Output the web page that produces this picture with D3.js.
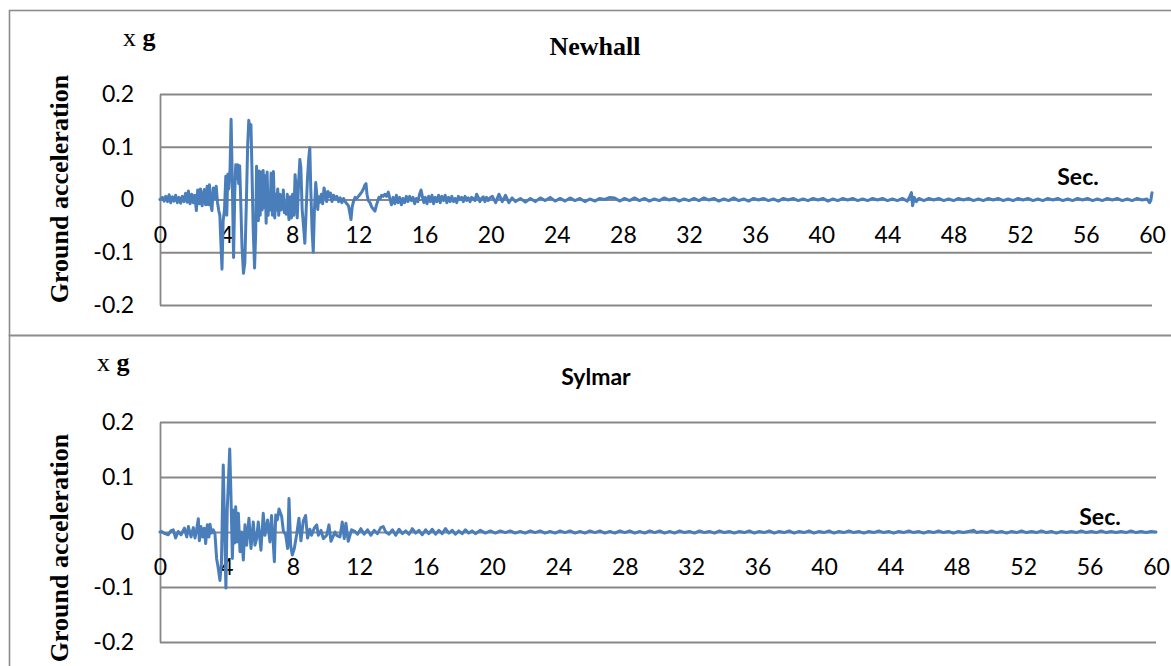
<!DOCTYPE html>
<html><head><meta charset="utf-8">
<script src="https://cdn.jsdelivr.net/npm/d3@7"></script>
<style>
html,body{margin:0;padding:0;background:#fff;}
svg{display:block;}
</style></head><body>
<svg id="chart" width="1171" height="666"></svg>
<script>
// ---------- data ----------
const xTicks = [0,4,8,12,16,20,24,28,32,36,40,44,48,52,56,60];
const yTicks = [-0.2,-0.1,0,0.1,0.2];
const panelTitles = ["Newhall","Sylmar"];
const yAxisTitle = "Ground acceleration";
const unitLabel = "x g";
const xUnit = "Sec.";

// Newhall record: [time s, acceleration g]
const newhall = [
[0,0],[0.15,0.004],[0.25,-0.003],[0.35,0.006],[0.45,-0.004],[0.55,0.009],[0.65,-0.006],[0.75,0.005],[0.85,-0.003],[0.95,0.008],
[1.05,-0.006],[1.15,0.004],[1.25,-0.007],[1.35,0.006],[1.45,-0.004],[1.55,0.012],[1.65,-0.005],[1.72,0.016],[1.82,-0.008],[1.92,0.010],
[2.02,-0.006],[2.10,0.008],[2.20,-0.021],[2.28,0.018],[2.38,-0.008],[2.45,0.020],[2.55,-0.012],[2.62,0.010],[2.68,0.019],[2.76,-0.010],
[2.85,0.025],[2.92,-0.010],[2.99,0.028],[3.06,-0.008],[3.14,-0.021],[3.22,0.022],[3.30,0.002],[3.40,0.025],[3.48,-0.006],[3.56,-0.022],
[3.62,-0.030],[3.68,-0.080],[3.75,-0.132],[3.82,-0.040],[3.90,-0.020],[3.98,0.044],[4.04,-0.030],[4.10,0.048],[4.16,0.020],[4.24,0.060],
[4.30,0.152],[4.37,0.040],[4.45,-0.110],[4.52,0.010],[4.58,0.066],[4.64,0.040],[4.70,0.066],[4.76,0.030],[4.82,0.064],[4.88,0.000],
[4.96,-0.090],[5.05,-0.140],[5.13,-0.120],[5.22,-0.010],[5.30,0.100],[5.37,0.150],[5.44,0.135],[5.50,0.142],[5.56,0.060],[5.64,-0.060],
[5.72,-0.130],[5.79,-0.060],[5.84,0.063],[5.90,-0.005],[5.95,-0.040],[6.00,0.054],[6.06,-0.030],[6.12,0.052],[6.18,-0.020],[6.24,0.055],
[6.30,-0.015],[6.36,0.045],[6.42,-0.045],[6.48,0.052],[6.54,-0.030],[6.60,0.010],[6.66,-0.020],[6.72,0.050],[6.80,-0.030],[6.86,0.053],
[6.94,-0.035],[7.00,0.010],[7.06,-0.020],[7.12,0.020],[7.18,-0.030],[7.26,0.010],[7.32,-0.020],[7.40,-0.015],[7.46,0.018],[7.52,-0.025],
[7.58,-0.010],[7.64,-0.028],[7.70,0.010],[7.80,-0.038],[7.88,0.005],[7.95,-0.035],[8.02,0.010],[8.10,-0.030],[8.17,0.047],[8.24,0.020],
[8.30,-0.035],[8.38,0.030],[8.46,0.076],[8.52,0.060],[8.60,-0.020],[8.68,-0.050],[8.76,-0.083],[8.84,-0.020],[8.92,0.040],[9.00,0.080],
[9.06,0.098],[9.12,0.020],[9.20,-0.060],[9.27,-0.100],[9.34,-0.020],[9.42,0.032],[9.48,0.010],[9.54,-0.019],[9.60,0.005],[9.68,-0.005],
[9.76,0.010],[9.84,-0.008],[9.92,0.022],[10.00,0.012],[10.08,-0.004],[10.16,0.015],[10.24,0.005],[10.32,0.012],[10.40,-0.004],[10.50,0.008],
[10.60,0.002],[10.70,0.006],[10.80,-0.004],[10.90,0.003],[11.00,-0.006],[11.10,0.002],[11.20,-0.004],[11.30,-0.008],[11.40,-0.012],[11.48,-0.025],
[11.55,-0.038],[11.62,-0.015],[11.70,-0.004],[11.80,0.004],[11.90,0.002],[12.00,0.006],[12.10,0.010],[12.20,0.014],[12.30,0.020],[12.40,0.028],
[12.46,0.030],[12.52,0.010],[12.60,-0.002],[12.70,-0.006],[12.80,-0.014],[12.90,-0.018],[13.00,-0.022],[13.08,-0.012],[13.16,-0.004],[13.24,0.004],
[13.32,0.002],[13.40,0.008],[13.50,0.006],[13.60,0.010],[13.70,0.006],[13.81,0.014],[13.90,0.002],[14.00,-0.010],[14.10,0.004],[14.20,-0.008],
[14.30,0.008],[14.40,-0.006],[14.50,0.004],[14.60,-0.010],[14.70,0.002],[14.80,-0.006],[14.90,0.006],[15.00,-0.004],[15.10,0.006],[15.20,-0.002],
[15.30,0.004],[15.40,-0.008],[15.50,0.002],[15.60,-0.004],[15.70,0.010],[15.79,0.018],[15.88,0.004],[15.96,-0.006],[16.05,0.004],[16.15,-0.008],
[16.25,0.006],[16.35,-0.004],[16.45,0.008],[16.55,-0.008],[16.65,0.004],[16.75,-0.004],[16.85,0.008],[16.95,-0.006],[17.05,0.006],[17.15,-0.002],
[17.25,0.008],[17.35,-0.006],[17.45,0.004],[17.55,-0.004],[17.65,0.006],[17.75,-0.004],[17.85,0.002],[17.95,-0.006],[18.05,0.006],[18.15,0.000],
[18.25,0.004],[18.35,-0.004],[18.45,0.006],[18.55,-0.002],[18.65,0.003],[18.75,-0.004],[18.85,0.004],[18.95,0.002],[19.05,-0.002],[19.15,0.010],
[19.25,0.004],[19.35,-0.004],[19.45,0.002],[19.55,0.005],[19.65,-0.004],[19.75,0.004],[19.85,-0.002],[19.95,0.003],
[20.1,0.006],[20.3,-0.006],[20.5,0.010],[20.7,-0.004],[20.9,0.008],[21.1,-0.006],[21.3,0.003],[21.5,-0.004],[21.8,0.002],[22.1,-0.005],
[22.4,0.002],[22.7,-0.004],[23.0,0.003],[23.3,-0.002],[23.6,0.004],[23.9,-0.003],[24.2,0.002],[24.5,-0.003],[24.8,0.003],[25.1,-0.002],
[25.4,0.002],[25.7,-0.004],[26.0,0.001],[26.3,-0.003],[26.6,0.002],[26.9,0.000],[27.2,0.004],[27.5,0.003],[27.8,-0.003],[28.1,0.002],
[28.4,-0.002],[28.7,0.003],[29.0,-0.002],[29.3,0.002],[29.6,-0.003],[29.9,0.001],[30.2,-0.002],[30.5,0.003],[30.8,-0.001],[31.1,0.002],
[31.4,-0.003],[31.7,0.001],[32.0,-0.002],[32.3,0.002],[32.6,-0.002],[32.9,0.003],[33.2,-0.001],[33.5,0.002],[33.8,-0.003],[34.1,0.001],
[34.4,-0.002],[34.7,0.003],[35.0,-0.002],[35.3,0.001],[35.6,-0.003],[35.9,0.002],[36.2,-0.001],[36.5,0.002],[36.8,-0.002],[37.1,0.001],
[37.4,-0.003],[37.7,0.002],[38.0,-0.001],[38.3,0.002],[38.6,-0.002],[38.9,0.001],[39.2,-0.002],[39.5,0.002],[39.8,-0.001],[40.1,0.002],
[40.4,-0.003],[40.7,0.001],[41.0,-0.002],[41.3,0.002],[41.6,-0.001],[41.9,0.002],[42.2,-0.002],[42.5,0.001],[42.8,-0.002],[43.1,0.002],
[43.4,-0.001],[43.7,0.002],[44.0,-0.002],[44.3,0.001],[44.6,-0.002],[44.9,0.002],[45.2,-0.003],[45.35,0.006],[45.45,0.013],[45.52,-0.012],
[45.62,0.004],[45.75,-0.004],[45.9,0.002],[46.2,-0.002],[46.5,0.002],[46.8,-0.001],[47.1,0.002],[47.4,-0.002],[47.7,0.001],[48.0,-0.002],
[48.3,0.002],[48.6,-0.001],[48.9,0.002],[49.2,-0.002],[49.5,0.001],[49.8,-0.002],[50.1,0.002],[50.4,-0.001],[50.7,0.002],[51.0,-0.002],
[51.3,0.001],[51.6,-0.002],[51.9,0.002],[52.2,-0.001],[52.5,0.002],[52.8,-0.002],[53.1,0.001],[53.4,-0.002],[53.7,0.002],[54.0,-0.001],
[54.3,0.002],[54.6,-0.002],[54.9,0.001],[55.2,-0.002],[55.5,0.002],[55.8,-0.001],[56.1,0.002],[56.4,-0.002],[56.7,0.001],[57.0,-0.002],
[57.3,0.002],[57.6,-0.001],[57.9,0.002],[58.2,-0.002],[58.5,0.001],[58.8,-0.002],[59.1,0.002],[59.4,-0.001],[59.7,0.001],[59.85,-0.006],
[59.93,-0.002],[60.0,0.013]
];

// Sylmar record: [time s, acceleration g]
const sylmar = [
[0,0],[0.10,0.001],[0.30,-0.003],[0.50,-0.005],[0.65,0.002],[0.80,0.004],[0.94,-0.011],[1.10,0.001],[1.27,-0.005],[1.47,0.007],
[1.61,-0.009],[1.71,0.010],[1.87,-0.009],[2.01,0.008],[2.11,-0.011],[2.21,0.005],[2.31,0.024],[2.37,-0.016],[2.47,0.010],[2.57,-0.009],
[2.67,0.007],[2.75,-0.021],[2.85,0.013],[2.95,-0.009],[3.01,0.014],[3.11,-0.002],[3.21,0.004],[3.31,-0.003],[3.41,-0.048],[3.51,-0.066],
[3.61,-0.088],[3.70,-0.057],[3.81,0.122],[3.97,-0.102],[4.05,0.040],[4.20,0.151],[4.28,0.060],[4.36,-0.048],[4.44,0.040],[4.50,-0.020],
[4.56,0.046],[4.64,-0.018],[4.72,0.034],[4.82,-0.036],[4.92,0.000],[5.02,-0.051],[5.12,0.013],[5.22,-0.024],[5.36,0.025],[5.48,-0.030],
[5.62,0.018],[5.72,-0.024],[5.82,-0.012],[5.92,0.018],[6.08,-0.033],[6.22,0.034],[6.32,-0.006],[6.48,0.022],[6.62,-0.018],[6.72,0.030],
[6.89,-0.054],[6.97,0.031],[7.07,0.022],[7.17,0.042],[7.33,0.028],[7.43,0.002],[7.57,-0.005],[7.69,-0.030],[7.77,0.061],[7.87,-0.024],
[7.97,-0.042],[8.09,-0.030],[8.23,-0.005],[8.37,0.025],[8.49,-0.016],[8.63,0.020],[8.77,0.030],[8.89,-0.011],[9.03,0.005],[9.13,-0.006],
[9.29,0.007],[9.44,0.013],[9.54,-0.006],[9.70,0.003],[9.84,-0.012],[10.04,-0.006],[10.18,0.013],[10.30,-0.017],[10.54,0.000],[10.64,-0.006],
[10.84,-0.009],[10.98,0.018],[11.10,-0.012],[11.20,0.016],[11.34,-0.017],[11.54,0.004],[11.74,0.001],[11.90,-0.004],[12.10,0.006],[12.30,-0.004],
[12.50,0.004],[12.70,-0.006],[12.90,0.003],[13.10,-0.003],[13.30,0.008],[13.45,0.010],[13.60,0.000],[13.80,-0.004],[14.00,0.004],[14.20,-0.006],
[14.40,0.005],[14.60,-0.003],[14.80,0.002],[15.00,-0.004],[15.20,0.006],[15.40,-0.002],[15.60,0.003],[15.80,-0.005],[16.00,0.004],[16.20,-0.003],
[16.40,0.005],[16.60,-0.004],[16.80,0.003],[17.00,-0.003],[17.20,0.006],[17.40,-0.002],[17.60,0.003],[17.80,-0.004],[18.00,0.002],[18.20,-0.003],
[18.40,0.004],[18.60,-0.002],[18.80,0.002],[19.00,-0.003],[19.30,0.003],[19.60,-0.002],[19.90,0.002],[20.2,-0.002],[20.5,0.002],[20.8,-0.001],
[21.1,0.002],[21.4,-0.002],[21.7,0.001],[22.0,-0.002],[22.3,0.002],[22.6,-0.001],[22.9,0.002],[23.2,-0.002],[23.5,0.001],[23.8,-0.002],
[24.1,0.002],[24.4,-0.001],[24.7,0.002],[25.0,-0.002],[25.3,0.001],[25.6,-0.002],[25.9,0.002],[26.2,-0.001],[26.5,0.002],[26.8,-0.002],
[27.1,0.001],[27.4,-0.002],[27.7,0.002],[28.0,-0.001],[28.3,0.002],[28.6,-0.002],[28.9,0.001],[29.2,-0.002],[29.5,0.002],[29.8,-0.001],
[30.1,0.002],[30.4,-0.002],[30.7,0.001],[31.0,-0.002],[31.3,0.002],[31.6,-0.001],[31.9,0.001],[32.2,-0.002],[32.5,0.002],[32.8,-0.001],
[33.1,0.001],[33.4,-0.002],[33.7,0.002],[34.0,-0.001],[34.3,0.001],[34.6,-0.002],[34.9,0.001],[35.2,-0.001],[35.5,0.002],[35.8,-0.002],
[36.1,0.001],[36.4,-0.001],[36.7,0.002],[37.0,-0.002],[37.3,0.001],[37.6,-0.001],[37.9,0.002],[38.2,-0.002],[38.5,0.001],[38.8,-0.001],
[39.1,0.002],[39.4,-0.002],[39.7,0.001],[40.0,-0.001],[40.3,0.002],[40.6,-0.002],[40.9,0.001],[41.2,-0.001],[41.5,0.002],[41.8,-0.001],
[42.1,0.001],[42.4,-0.002],[42.7,0.001],[43.0,-0.001],[43.3,0.002],[43.6,-0.001],[43.9,0.001],[44.2,-0.002],[44.5,0.001],[44.8,-0.001],
[45.1,0.002],[45.4,-0.001],[45.7,0.001],[46.0,-0.002],[46.3,0.001],[46.6,-0.001],[46.9,0.002],[47.2,-0.001],[47.5,0.001],[47.8,-0.002],
[48.1,0.001],[48.4,-0.001],[48.7,0.001],[49.0,0.003],[49.2,-0.001],[49.5,0.001],[49.8,-0.001],[50.1,0.002],[50.4,-0.001],[50.7,0.001],
[51.0,-0.002],[51.3,0.001],[51.6,-0.001],[51.9,0.002],[52.2,-0.001],[52.5,0.001],[52.8,-0.001],[53.1,0.002],[53.4,-0.001],[53.7,0.001],
[54.0,-0.002],[54.3,0.001],[54.6,-0.001],[54.9,0.001],[55.2,-0.001],[55.5,0.002],[55.8,-0.001],[56.1,0.001],[56.4,-0.001],[56.7,0.002],
[57.0,-0.001],[57.3,0.001],[57.6,-0.001],[57.9,0.001],[58.2,-0.001],[58.5,0.002],[58.8,-0.001],[59.1,0.001],[59.4,-0.001],[59.7,0.001],
[60.0,0.000]
];

// ---------- layout ----------
const svg = d3.select("#chart");
const gridColor = "#878787";
const lineColor = "#4a7ebb";
const sansFont = "Lato, 'Open Sans', sans-serif";
const serifFont = "'Liberation Serif', 'DejaVu Serif', serif";

const panels = [
  {series: newhall, title: panelTitles[0], titleFont: serifFont, titleSize: 26, titleX: 595, titleY: 55,
   frameTop: 10.5, frameBottom: 335.5, x0: 160, x1: 1152, yTop: 94, yBot: 305,
   unitX: 123, unitY: 46, yTitleX: 68, yTitleY: 189, secX: 1078, secY: 185, tickLabelDy: 35},
  {series: sylmar, title: panelTitles[1], titleFont: sansFont, titleSize: 23, titleX: 596, titleY: 385,
   frameTop: 335.5, frameBottom: 720, x0: 160, x1: 1156, yTop: 422, yBot: 642,
   unitX: 97, unitY: 371, yTitleX: 68, yTitleY: 548, secX: 1100, secY: 525, tickLabelDy: 35}
];

const fmtY = d => d === 0 ? "0" : (d < 0 ? "-" : "") + Math.abs(d).toFixed(1);

panels.forEach(p => {
  svg.append("rect")
    .attr("x", 9.5).attr("y", p.frameTop)
    .attr("width", 1300).attr("height", p.frameBottom - p.frameTop)
    .attr("fill", "none").attr("stroke", "#8c8c8c").attr("stroke-width", 1.6);

  const x = d3.scaleLinear().domain([0, 60]).range([p.x0, p.x1]);
  const y = d3.scaleLinear().domain([-0.2, 0.2]).range([p.yBot, p.yTop]);

  const yAxis = d3.axisLeft(y).tickValues(yTicks).tickFormat(fmtY)
    .tickSize(-(p.x1 - p.x0)).tickSizeOuter(0).tickPadding(26);
  const gy = svg.append("g").attr("transform", `translate(${p.x0},0)`).call(yAxis);
  gy.select(".domain").attr("stroke", gridColor).attr("stroke-width", 1.8);
  gy.selectAll(".tick line").attr("stroke", gridColor).attr("stroke-width", 1.8);
  gy.selectAll(".tick text").attr("font-family", sansFont).attr("font-size", 23).attr("fill", "#000");

  const xAxis = d3.axisBottom(x).tickValues(xTicks).tickFormat(d3.format("d")).tickSize(0);
  const gx = svg.append("g").attr("transform", `translate(0,${y(0)})`).call(xAxis);
  gx.select(".domain").remove();
  gx.selectAll(".tick text").attr("font-family", sansFont).attr("font-size", 23).attr("fill", "#000")
    .attr("y", p.tickLabelDy).attr("dy", "0.35em");

  const line = d3.line().x(d => x(d[0])).y(d => y(d[1]));
  svg.append("path").datum(p.series)
    .attr("d", line).attr("fill", "none")
    .attr("stroke", lineColor).attr("stroke-width", 3)
    .attr("stroke-linejoin", "round").attr("stroke-linecap", "round");

  svg.append("text").attr("x", p.titleX).attr("y", p.titleY)
    .attr("text-anchor", "middle").attr("font-family", p.titleFont)
    .attr("font-weight", "bold").attr("font-size", p.titleSize).text(p.title);

  const u = svg.append("text").attr("x", p.unitX).attr("y", p.unitY)
    .attr("font-family", serifFont).attr("font-size", 26);
  u.append("tspan").text(unitLabel.split(" ")[0] + " ");
  u.append("tspan").attr("font-weight", "bold").text(unitLabel.split(" ")[1]);

  svg.append("text")
    .attr("transform", `translate(${p.yTitleX},${p.yTitleY}) rotate(-90)`)
    .attr("text-anchor", "middle").attr("font-family", serifFont)
    .attr("font-weight", "bold").attr("font-size", 26).text(yAxisTitle);

  svg.append("text").attr("x", p.secX).attr("y", p.secY)
    .attr("text-anchor", "middle").attr("font-family", sansFont)
    .attr("font-weight", "bold").attr("font-size", 23).text(xUnit);
});
</script>
</body></html>
